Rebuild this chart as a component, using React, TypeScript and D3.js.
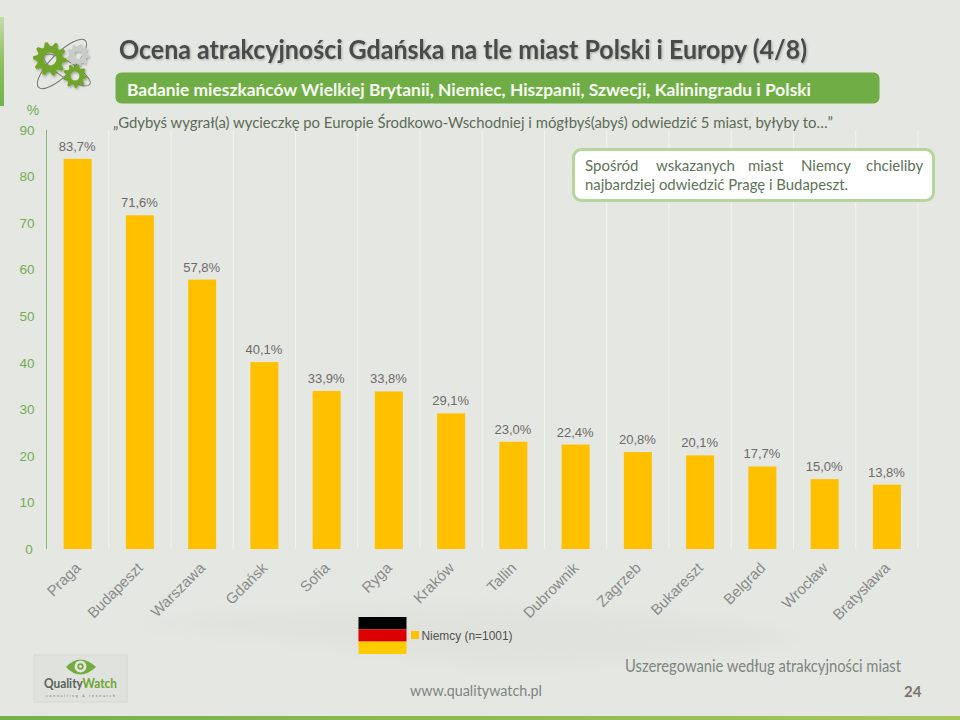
import React from "react";
import * as d3 from "d3";

const cities = ["Praga","Budapeszt","Warszawa","Gdańsk","Sofia","Ryga","Kraków","Tallin","Dubrownik","Zagrzeb","Bukareszt","Belgrad","Wrocław","Bratysława"];
const values = [83.7,71.6,57.8,40.1,33.9,33.8,29.1,23.0,22.4,20.8,20.1,17.7,15.0,13.8];
const valueLabels = ["83,7%","71,6%","57,8%","40,1%","33,9%","33,8%","29,1%","23,0%","22,4%","20,8%","20,1%","17,7%","15,0%","13,8%"];
const yTicks = [0,10,20,30,40,50,60,70,80,90];

const W = 960, H = 720;
const x = d3.scaleBand<string>().domain(cities).range([46.5, 918]).paddingInner(0.55).paddingOuter(0.275);
const y = d3.scaleLinear().domain([0, 90]).range([549, 129.5]);
const step = x.step();

function gearPath(cx: number, cy: number, rOuter: number, rInner: number, rHole: number, teeth: number) {
  const pts: [number, number][] = [];
  const n = teeth * 4;
  for (let i = 0; i < n; i++) {
    const a = (i / n) * Math.PI * 2;
    const r = i % 4 < 2 ? rOuter : rInner;
    pts.push([cx + r * Math.cos(a), cy + r * Math.sin(a)]);
  }
  const hole = d3.path();
  hole.moveTo(cx + rHole, cy);
  hole.arc(cx, cy, rHole, 0, Math.PI * 2, true);
  return "M" + pts.map(p => p.join(",")).join("L") + "Z" + hole.toString();
}

const calibri = "Lato, Carlito, 'Open Sans', sans-serif";
const arial = "'Liberation Sans', Arial, sans-serif";

export default function App() {
  return (
    <svg width={W} height={H} viewBox={`0 0 ${W} ${H}`} style={{ position: "absolute", left: 0, top: 0, display: "block" }}>
      <defs>
        <linearGradient id="bottomBar" x1="0" y1="0" x2="1" y2="0">
          <stop offset="0" stopColor="#74b04a" />
          <stop offset="1" stopColor="#a6c65a" />
        </linearGradient>
        <linearGradient id="leftBar" x1="0" y1="0" x2="0" y2="1">
          <stop offset="0" stopColor="#c5dcaa" />
          <stop offset="0.5" stopColor="#8fc060" />
          <stop offset="1" stopColor="#74b04a" />
        </linearGradient>
        <filter id="soft" x="-20%" y="-20%" width="140%" height="140%">
          <feDropShadow dx="1" dy="1.5" stdDeviation="1.2" floodColor="#000" floodOpacity="0.3" />
        </filter>
        <filter id="blurBand" x="-10%" y="-50%" width="120%" height="200%">
          <feGaussianBlur stdDeviation="8" />
        </filter>
      </defs>
      <rect width={W} height={H} fill="#e5e7e2" />
      <path d="M130,625 C260,632 360,650 470,664 C560,668 680,660 800,640 C700,600 300,600 130,625 Z" fill="#e0e3dd" filter="url(#blurBand)" />

      <rect x="0" y="17" width="4" height="89" fill="url(#leftBar)" />
      <rect x="0" y="716" width={W} height="4" fill="url(#bottomBar)" />

      {/* logo gears */}
      <g>
        <ellipse cx="62" cy="64" rx="33" ry="11" fill="none" stroke="#6f7a6a" strokeWidth="1" transform="rotate(-45 62 64)" />
        <ellipse cx="67" cy="70" rx="27" ry="8" fill="none" stroke="#7f8a7a" strokeWidth="1" transform="rotate(32 67 70)" />
        <path d={gearPath(78, 55, 11, 8.5, 4, 9)} fill="#c9cdca" fillRule="evenodd" filter="url(#soft)" />
        <path d={gearPath(50, 59, 17, 13, 6.5, 10)} fill="#6fa52c" fillRule="evenodd" filter="url(#soft)" />
        <path d={gearPath(75, 76, 12, 9, 4.5, 9)} fill="#6fa52c" fillRule="evenodd" filter="url(#soft)" />
      </g>

      {/* grid */}
      {d3.range(0, cities.length + 1).map(i => {
        const gx = 46.5 + i * step;
        return <line key={i} x1={gx} x2={gx} y1={130} y2={549} stroke={i === 0 ? "#8fb878" : "#f3f4f1"} strokeWidth={1} />;
      })}
      {yTicks.map(t => (
        <text key={t} x={t === 0 ? 29 : 27} y={y(t) + 5} textAnchor="middle" fontFamily={arial} fontSize={13.5} fill="#74ab56">{t}</text>
      ))}
      <text x={33} y={115} textAnchor="middle" fontFamily={arial} fontSize={14} fill="#74ab56">%</text>

      {/* bars */}
      {cities.map((c, i) => (
        <rect key={c} x={x(c)} y={y(values[i])} width={x.bandwidth()} height={549 - y(values[i])} fill="#ffc000" />
      ))}
      {cities.map((c, i) => (
        <text key={c} x={x(c)! + x.bandwidth() / 2 - 0.5} y={y(values[i]) - 8} textAnchor="middle" fontFamily={arial} fontSize={13} fill="#6e6a6a">{valueLabels[i]}</text>
      ))}
      {cities.map((c, i) => {
        const tx = x(c)! + x.bandwidth() / 2 - 4;
        return (
          <text key={c} transform={`translate(${tx},561) rotate(-45)`} textAnchor="end" dominantBaseline="hanging" fontFamily={arial} fontSize={15} fill="#8a8a8a">{c}</text>
        );
      })}

      {/* title */}
      <text x={119} y={59} fontFamily={calibri} fontSize={26} fontWeight="bold" fill="#4a4a4a" textLength={688} lengthAdjust="spacingAndGlyphs" style={{ filter: "drop-shadow(1px 1px 1px rgba(0,0,0,0.25))" }}>Ocena atrakcyjności Gdańska na tle miast Polski i Europy (4/8)</text>
      <rect x="115.5" y="72.5" width="764" height="31" rx="6" fill="#70ad47" />
      <text x={127} y={96} fontFamily={calibri} fontSize={17.5} fontWeight="bold" fill="#f7fbf2" textLength={684} lengthAdjust="spacingAndGlyphs">Badanie mieszkańców Wielkiej Brytanii, Niemiec, Hiszpanii, Szwecji, Kaliningradu i Polski</text>
      <text x={113} y={128} fontFamily={calibri} fontSize={15.5} fill="#5c6b58" textLength={720} lengthAdjust="spacingAndGlyphs">„Gdybyś wygrał(a) wycieczkę po Europie Środkowo-Wschodniej i mógłbyś(abyś) odwiedzić 5 miast, byłyby to…”</text>

      {/* callout */}
      <rect x="573.5" y="149.5" width="360" height="51" rx="8" fill="#ffffff" stroke="#b5d69b" strokeWidth="3" />
      <text x={585} y={171} fontFamily={calibri} fontSize={15} fill="#5f7259">
        {[["Spośród",585],["wskazanych",656],["miast",748],["Niemcy",801],["chcieliby",866]].map(([w, wx]) => (
          <tspan key={w as string} x={wx as number}>{w as string}</tspan>
        ))}
      </text>
      <text x={585} y={190} fontFamily={calibri} fontSize={15} fill="#5f7259" textLength={263} lengthAdjust="spacingAndGlyphs">najbardziej odwiedzić Pragę i Budapeszt.</text>

      {/* legend */}
      <rect x="358.5" y="617" width="48" height="12.3" fill="#000" />
      <rect x="358.5" y="629.3" width="48" height="12.3" fill="#dd0000" />
      <rect x="358.5" y="641.6" width="48" height="12.4" fill="#ffcc00" />
      <rect x="411" y="631" width="8" height="8" fill="#ffc000" />
      <text x={421.5} y={640} fontFamily={arial} fontSize={12} fill="#505050" textLength={91} lengthAdjust="spacingAndGlyphs">Niemcy (n=1001)</text>

      {/* footer */}
      <rect x="34" y="655" width="93" height="47" fill="#e0e2de" stroke="#d6d8d4" />
      <path d="M66,667 Q80,652 96,667 Q80,682 66,667 Z" fill="#74ab3c" />
      <circle cx="80.5" cy="666.5" r="6" fill="#e3e5e1" />
      <circle cx="80.5" cy="666.5" r="3.2" fill="#74ab3c" />
      <circle cx="80.5" cy="666.5" r="1.5" fill="#e3e5e1" />
      <text x={44} y={688} fontFamily={calibri} fontSize={12.5} fontWeight="bold" fill="#59625a" textLength={73} lengthAdjust="spacingAndGlyphs">Quality<tspan fill="#6fa52c">Watch</tspan></text>
      <text x={46} y={696.5} fontFamily={arial} fontSize={3.5} fill="#6a6a6a" textLength={69} lengthAdjust="spacing">consulting &amp; research</text>
      <text x={410} y={696} fontFamily={calibri} fontSize={15.5} fill="#7f8580" textLength={132} lengthAdjust="spacingAndGlyphs">www.qualitywatch.pl</text>
      <text x={625} y={672} fontFamily={calibri} fontSize={17} fill="#7e8480" textLength={276} lengthAdjust="spacingAndGlyphs">Uszeregowanie według atrakcyjności miast</text>
      <text x={904} y={697} fontFamily={calibri} fontSize={15} fontWeight="bold" fill="#7a7470">24</text>
    </svg>
  );
}
